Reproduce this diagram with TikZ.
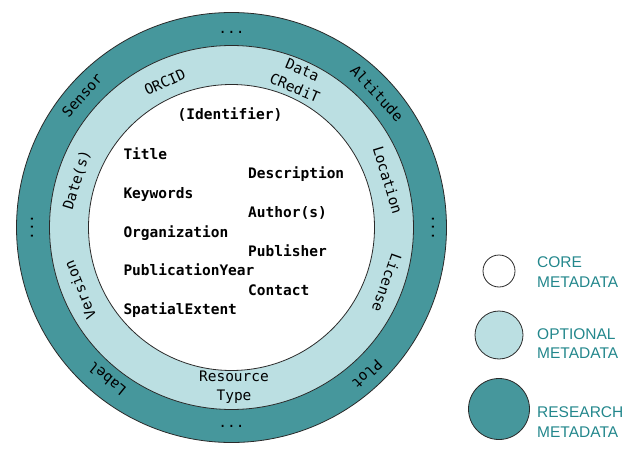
\documentclass[tikz,border=0pt]{standalone}
\usepackage{fontspec}
\setmainfont{Liberation Sans}
\newfontfamily\monof{DejaVu Sans Mono}
\usetikzlibrary{calc}
\definecolor{research}{HTML}{46979C}
\definecolor{optional}{HTML}{BBDFE2}
\definecolor{legendtxt}{HTML}{23878C}
\definecolor{ringline}{HTML}{2A2A2A}
\tikzset{
  ring/.style={draw=ringline, line width=0.8pt},
  core/.style={font=\monof\bfseries\fontsize{14.5}{17}\selectfont, inner sep=0pt, anchor=base west},
  ringlbl/.style={font=\monof\fontsize{14.5}{19.5}\selectfont, inner sep=0pt, align=center},
  legtext/.style={font=\fontsize{15.5}{18}\selectfont, text=legendtxt, inner sep=0pt, anchor=base west},
}
\begin{document}
\begin{tikzpicture}[x=1pt,y=1pt]
\useasboundingbox (0,0) rectangle (640,451);
\coordinate (c) at (231.5,223.5);
% rings
\draw[ring, fill=research] (c) circle (215);
\draw[ring, fill=optional] (c) circle (182);
\draw[ring, fill=white] (c) circle (143);
% core metadata
\node[core, anchor=base] (ident) at (230,332) {(Identifier)};
\node[core] (title) at (123.3,292) {Title};
\node[core] (desc) at (248,273) {Description};
\node[core] (keyw) at (123.3,253) {Keywords};
\node[core] (auth) at (248,234) {Author(s)};
\node[core] (org) at (123.3,214) {Organization};
\node[core] (publ) at (248,195) {Publisher};
\node[core] (pyear) at (123.3,176) {PublicationYear};
\node[core] (cont) at (248,156) {Contact};
\node[core] (spat) at (123.3,137) {SpatialExtent};
% optional metadata
\node[ringlbl, rotate=24.6] (orcid) at ($(c)+(114.6:160)$) {ORCID};
\node[ringlbl, rotate=-23] (credit) at ($(c)+(65.7:163)$) {Data\\CRediT};
\node[ringlbl, rotate=-73.1] (loc) at ($(c)+(16.9:163.5)$) {Location};
\node[ringlbl, rotate=-109.6] (lic) at ($(c)+(-19.6:165)$) {License};
\node[ringlbl] (rtype) at (234,64) {Resource\\Type};
\node[ringlbl, rotate=112.4] (vers) at ($(c)+(202.4:164)$) {Version};
\node[ringlbl, rotate=72.9] (date) at ($(c)+(162.9:161.6)$) {Date(s)};
% research metadata
\node[ringlbl, rotate=48.5] (sensor) at ($(c)+(138.5:199.5)$) {Sensor};
\node[ringlbl, rotate=-47.3] (alt) at ($(c)+(42.7:198)$) {Altitude};
\node[ringlbl, rotate=-137.2] (plot) at ($(c)+(-47.2:200)$) {Plot};
\node[ringlbl, rotate=140.6] (label) at ($(c)+(230.6:196)$) {Label};
\node[ringlbl] (dtop) at ($(c)+(0,195)$) {...};
\node[ringlbl] (dbot) at ($(c)+(0,-198.5)$) {...};
\node[ringlbl, rotate=90] (dleft) at ($(c)+(-199.5,0)$) {...};
\node[ringlbl, rotate=90] (dright) at ($(c)+(201.5,0)$) {...};
% legend
\draw[ring, fill=white] (499,180) circle (16);
\draw[ring, fill=optional] (499,116) circle (24);
\draw[ring, fill=research] (499,42) circle (30.5);
\node[legtext] (l1a) at (537,184) {CORE};
\node[legtext] (l1b) at (537,164) {METADATA};
\node[legtext] (l2a) at (537,112) {OPTIONAL};
\node[legtext] (l2b) at (537,93) {METADATA};
\node[legtext] (l3a) at (537,34) {RESEARCH};
\node[legtext] (l3b) at (537,14) {METADATA};
\end{tikzpicture}
\end{document}
